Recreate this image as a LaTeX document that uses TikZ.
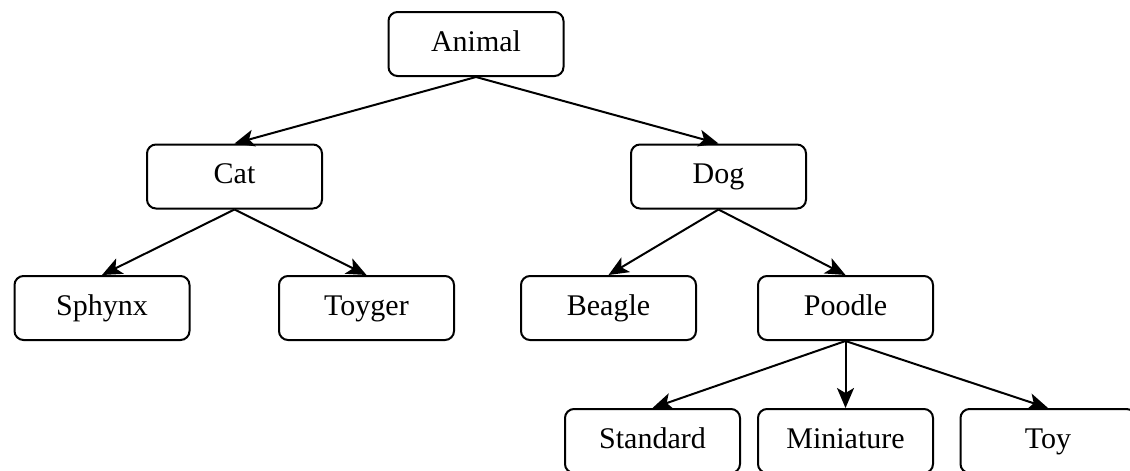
\documentclass[tikz,border=0pt]{standalone}
\usepackage{fontspec}
\setmainfont{Liberation Serif}
\usetikzlibrary{arrows.meta}
\begin{document}
\begin{tikzpicture}[x=1pt,y=-1pt,
  box/.style={draw, line width=2pt, rounded corners=9pt, minimum width=175pt, minimum height=64pt, inner sep=0pt, text height=20pt, text depth=6pt, font=\fontsize{30}{36}\selectfont},
  link/.style={line width=2pt, -{Stealth[length=20pt,width=17pt,inset=5pt]}}]
\useasboundingbox (0,0) rectangle (1130,471);
\node[box] (animal) at (476,44) {Animal};
\node[box] (cat) at (234.5,176.5) {Cat};
\node[box] (dog) at (718.5,176.5) {Dog};
\node[box] (sphynx) at (102,308) {Sphynx};
\node[box] (toyger) at (366.5,308) {Toyger};
\node[box] (beagle) at (608.5,308) {Beagle};
\node[box] (poodle) at (845.5,308) {Poodle};
\node[box] (standard) at (652.5,441) {Standard};
\node[box] (miniature) at (845.5,441) {Miniature};
\node[box] (toy) at (1048,441) {Toy};
\draw[link] (animal.south) -- (cat.north);
\draw[link] (animal.south) -- (dog.north);
\draw[link] (cat.south) -- (sphynx.north);
\draw[link] (cat.south) -- (toyger.north);
\draw[link] (dog.south) -- (beagle.north);
\draw[link] (dog.south) -- (poodle.north);
\draw[link] (poodle.south) -- (standard.north);
\draw[link] (poodle.south) -- (miniature.north);
\draw[link] (poodle.south) -- (toy.north);
\end{tikzpicture}
\end{document}
